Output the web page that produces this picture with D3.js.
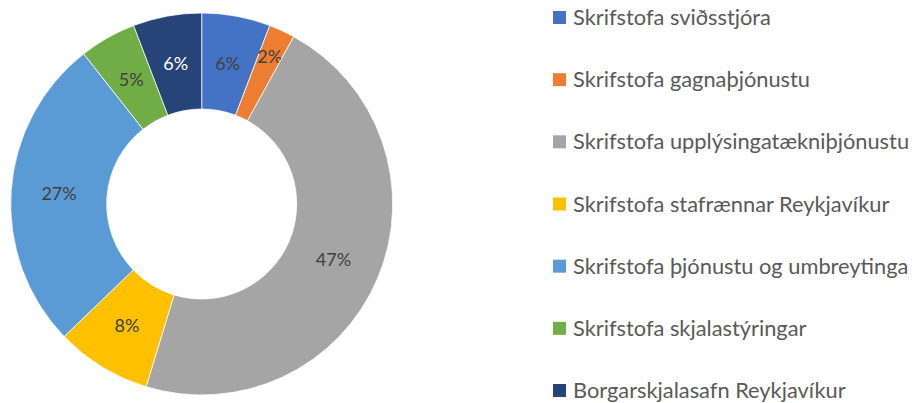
<html>
<head>
<meta charset="utf-8">
<script src="https://d3js.org/d3.v7.min.js"></script>
<style>
body { margin: 0; background: #fff; }
text { font-family: Lato, "Open Sans", sans-serif; }
</style>
</head>
<body>
<svg width="920" height="403"></svg>
<script>
var categories = [
  "Skrifstofa sviðsstjóra",
  "Skrifstofa gagnaþjónustu",
  "Skrifstofa upplýsingatækniþjónustu",
  "Skrifstofa stafrænnar Reykjavíkur",
  "Skrifstofa þjónustu og umbreytinga",
  "Skrifstofa skjalastýringar",
  "Borgarskjalasafn Reykjavíkur"
];
var values = [5.8, 2.2, 46.7, 8.1, 26.6, 4.8, 5.8];
var colors = ["#4472C4", "#ED7D31", "#A5A5A5", "#FFC000", "#5B9BD5", "#70AD47", "#264478"];
var labelColors = ["#404040", "#404040", "#404040", "#404040", "#404040", "#404040", "#ffffff"];

var svg = d3.select("svg"),
    cx = 201.7, cy = 204,
    outer = 191, inner = 95;

var data = categories.map(function(c, i) { return {name: c, value: values[i], i: i}; });

var pie = d3.pie().sort(null).value(function(d) { return d.value; });
var arc = d3.arc().innerRadius(inner).outerRadius(outer);
var midR = (inner + outer) / 2;
var labelArc = d3.arc().innerRadius(midR).outerRadius(midR);
// tiny slices get their label pushed outward, like Excel does
var smallArc = d3.arc().innerRadius(162).outerRadius(162);

var total = d3.sum(values);
var g = svg.append("g").attr("transform", "translate(" + cx + "," + cy + ")");

var slices = g.selectAll(".slice").data(pie(data)).enter().append("g");

slices.append("path")
  .attr("d", arc)
  .attr("fill", function(d) { return colors[d.data.i]; })
  .attr("stroke", "#fff")
  .attr("stroke-width", 0.75);

slices.append("text")
  .attr("transform", function(d) {
    var a = (d.data.value / total < 0.03) ? smallArc : labelArc;
    return "translate(" + a.centroid(d) + ")";
  })
  .attr("text-anchor", "middle")
  .attr("dy", "0.35em")
  .attr("font-size", 18)
  .attr("fill", function(d) { return labelColors[d.data.i]; })
  .text(function(d) { return Math.round(d.data.value / total * 100) + "%"; });

// legend
var y = d3.scalePoint().domain(categories).range([17.5, 390.5]);

var legend = svg.append("g").selectAll("g").data(data).enter().append("g")
  .attr("transform", function(d) { return "translate(553," + y(d.name) + ")"; });

legend.append("rect")
  .attr("x", 0).attr("y", -6.5)
  .attr("width", 13).attr("height", 13)
  .attr("fill", function(d) { return colors[d.i]; });

var legendText = legend.append("text")
  .attr("x", 20)
  .attr("dy", "0.35em")
  .attr("font-size", 20)
  .attr("fill", "#595959")
  .text(function(d) { return d.name; });

// fit legend font to the width of the first entry (~198px)
var w = legendText.nodes()[0].getComputedTextLength();
legendText.attr("font-size", 20 * 198 / w);
</script>
</body>
</html>
